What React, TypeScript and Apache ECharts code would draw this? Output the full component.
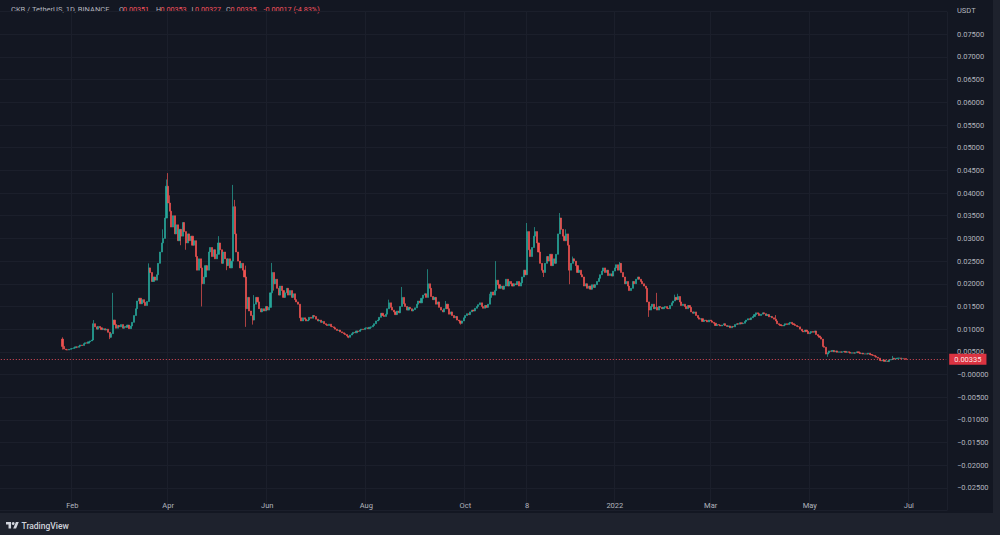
import React, { useEffect, useRef } from "react";
import * as echarts from "echarts";

const FONT = "Roboto, 'Noto Sans', sans-serif";
const UP = "#26a69a";
const DOWN = "#ef5350";

// Daily closes, in units of 0.00001 USDT (CKB/USDT, Binance, 1D)
const close2021Jan = [620, 560, 545, 540, 555, 570];
const close2021Feb = [575, 590, 610, 600, 625, 650, 640, 680, 700, 690, 720, 740, 760, 1120, 1050, 1000, 1060, 1030, 990, 1010, 980, 1000, 930, 820, 900, 1200, 1100, 1020];
const close2021Mar = [1080, 1050, 1100, 1020, 1060, 1040, 1090, 1010, 1070, 1150, 1300, 1450, 1620, 1680, 1560, 1650, 1590, 1520, 1610, 2350, 2250, 2050, 2150, 2080, 2200, 2450, 2700, 2900, 3000, 3450, 4150];
const close2021Apr = [3780, 3600, 3250, 3500, 3100, 3300, 2950, 3200, 3050, 3350, 3150, 2900, 3100, 2950, 3050, 2850, 2950, 2600, 2300, 2550, 2350, 2000, 2150, 2400, 2300, 2700, 2800, 2600, 2750, 2550];
const close2021May = [2650, 2900, 2750, 2450, 2700, 2550, 2400, 2550, 2350, 2500, 3700, 3100, 2700, 2500, 2350, 2450, 2300, 2150, 1450, 1700, 1400, 1300, 1200, 1550, 1700, 1600, 1450, 1380, 1450, 1400, 1500];
const close2021Jun = [1420, 1480, 1800, 2250, 2000, 2100, 1900, 1750, 1950, 1850, 1700, 1800, 1900, 1750, 1850, 1700, 1780, 1650, 1600, 1550, 1250, 1180, 1250, 1220, 1180, 1200, 1260, 1240, 1300, 1280];
const close2021Jul = [1220, 1180, 1200, 1150, 1170, 1120, 1100, 1080, 1110, 1060, 1050, 1030, 1000, 970, 980, 940, 920, 900, 880, 850, 820, 870, 900, 930, 920, 960, 950, 980, 1000, 990, 1020];
const close2021Aug = [1030, 1010, 1040, 1050, 1080, 1120, 1180, 1200, 1260, 1350, 1300, 1280, 1330, 1450, 1580, 1480, 1420, 1380, 1320, 1400, 1360, 1500, 1700, 1560, 1500, 1420, 1480, 1450, 1400, 1430, 1470];
const close2021Sep = [1550, 1620, 1580, 1680, 1750, 1780, 1700, 2000, 1900, 1720, 1650, 1700, 1550, 1600, 1480, 1420, 1380, 1450, 1550, 1450, 1330, 1380, 1300, 1250, 1280, 1200, 1180, 1130, 1180, 1250];
const close2021Oct = [1300, 1340, 1320, 1380, 1420, 1400, 1460, 1500, 1540, 1580, 1500, 1460, 1520, 1480, 1550, 1700, 1820, 1750, 1850, 2080, 1980, 1900, 1950, 1880, 1950, 2100, 1950, 2050, 2000, 1950, 2000];
const close2021Nov = [1980, 2050, 1950, 2020, 2150, 2300, 2200, 3150, 2750, 2600, 2800, 3050, 3150, 2900, 2700, 2450, 2300, 2250, 2450, 2600, 2500, 2650, 2400, 2550, 2450, 2650, 3100, 3450, 3200, 3050];
const close2021Dec = [2950, 3100, 2850, 2300, 2450, 2550, 2500, 2400, 2250, 2300, 2200, 2150, 1950, 2000, 1900, 1950, 1880, 1980, 1920, 1980, 2050, 2120, 2200, 2280, 2350, 2250, 2300, 2180, 2220, 2170, 2280];
const close2022Jan = [2350, 2420, 2300, 2450, 2250, 2150, 2000, 2050, 1950, 1850, 1900, 2050, 2000, 2100, 2150, 2100, 2050, 2000, 1950, 1900, 1600, 1420, 1500, 1550, 1450, 1480, 1420, 1500, 1480, 1450, 1480];
const close2022Feb = [1500, 1460, 1450, 1520, 1580, 1620, 1700, 1650, 1720, 1600, 1520, 1550, 1500, 1450, 1520, 1480, 1380, 1350, 1380, 1300, 1250, 1220, 1230, 1170, 1200, 1190, 1160, 1200];
const close2022Mar = [1180, 1150, 1130, 1080, 1100, 1090, 1070, 1090, 1120, 1080, 1060, 1070, 1030, 1060, 1050, 1100, 1120, 1110, 1140, 1120, 1130, 1170, 1200, 1230, 1210, 1250, 1280, 1320, 1360, 1340, 1300];
const close2022Apr = [1330, 1360, 1340, 1300, 1320, 1270, 1280, 1250, 1220, 1180, 1120, 1100, 1080, 1070, 1090, 1120, 1100, 1130, 1150, 1120, 1100, 1080, 1060, 1050, 1000, 960, 940, 980, 950, 900];
const close2022May = [920, 950, 930, 960, 880, 850, 820, 780, 620, 600, 450, 480, 520, 510, 530, 500, 520, 490, 500, 490, 500, 510, 490, 500, 490, 470, 480, 470, 480, 500, 480];
const close2022Jun = [460, 470, 450, 455, 450, 470, 440, 430, 420, 400, 380, 360, 310, 300, 320, 290, 300, 285, 320, 330, 360, 340, 355, 360, 365, 350, 355, 352, 335];

// [year, month, first day, closes]
const monthSeries: [number, number, number, number[]][] = [
  [2021, 1, 26, close2021Jan], [2021, 2, 1, close2021Feb], [2021, 3, 1, close2021Mar],
  [2021, 4, 1, close2021Apr], [2021, 5, 1, close2021May], [2021, 6, 1, close2021Jun],
  [2021, 7, 1, close2021Jul], [2021, 8, 1, close2021Aug], [2021, 9, 1, close2021Sep],
  [2021, 10, 1, close2021Oct], [2021, 11, 1, close2021Nov], [2021, 12, 1, close2021Dec],
  [2022, 1, 1, close2022Jan], [2022, 2, 1, close2022Feb], [2022, 3, 1, close2022Mar],
  [2022, 4, 1, close2022Apr], [2022, 5, 1, close2022May], [2022, 6, 1, close2022Jun],
];

const firstOpen = 780;
const openOverrides: [string, number][] = [["2022-06-29", 351]];
const wickHighs: [string, number][] = [
  ["2021-01-26", 820], ["2021-02-14", 1200], ["2021-02-26", 1800], ["2021-03-20", 2450],
  ["2021-03-29", 3200], ["2021-03-31", 4300], ["2021-04-01", 4440], ["2021-04-02", 3950],
  ["2021-04-05", 3450], ["2021-05-02", 3050], ["2021-05-11", 4180], ["2021-05-12", 3850],
  ["2021-05-19", 2400], ["2021-05-24", 1750], ["2021-06-04", 2460], ["2021-08-15", 1650],
  ["2021-08-23", 1930], ["2021-09-08", 2320], ["2021-09-19", 1620], ["2021-10-16", 1780],
  ["2021-10-20", 2500], ["2021-11-08", 3340], ["2021-11-09", 3050], ["2021-11-13", 3250],
  ["2021-11-28", 3560], ["2021-11-29", 3400], ["2021-12-02", 3200], ["2021-12-06", 2600],
  ["2022-01-04", 2480], ["2022-01-27", 1800], ["2022-02-07", 1760], ["2022-02-09", 1780],
  ["2022-04-10", 1310], ["2022-06-21", 410], ["2022-06-29", 353],
];
const wickLows: [string, number][] = [
  ["2021-01-26", 550], ["2021-02-24", 780], ["2021-04-09", 2850], ["2021-04-12", 2750],
  ["2021-04-22", 1500], ["2021-05-07", 2300], ["2021-05-19", 1050], ["2021-05-23", 1100],
  ["2021-06-05", 1850], ["2021-07-21", 800], ["2021-09-28", 1100], ["2021-11-18", 2150],
  ["2021-12-04", 1990], ["2022-01-22", 1270], ["2022-05-12", 390], ["2022-06-29", 327],
];

const xLabelDates: [string, string][] = [
  ["2021-02-01", "Feb"], ["2021-04-01", "Apr"], ["2021-06-01", "Jun"], ["2021-08-01", "Aug"],
  ["2021-10-01", "Oct"], ["2021-11-08", "8"], ["2022-01-01", "2022"], ["2022-03-01", "Mar"],
  ["2022-05-01", "May"], ["2022-07-01", "Jul"],
];
const axisStart = [2020, 12, 19];
const axisEnd = [2022, 7, 24];
const priceMin = -0.03;
const priceMax = 0.08;
const priceStep = 0.005;
const headerParts: [string, string][] = [["O", "0.00351"], ["H", "0.00353"], ["L", "0.00327"], ["C", "0.00335"]];
const headerChange = "-0.00017 (-4.83%)";

const pad = (n: number) => String(n).padStart(2, "0");
const key = (y: number, m: number, d: number) => `${y}-${pad(m)}-${pad(d)}`;

function buildCategories(): string[] {
  const out: string[] = [];
  let t = Date.UTC(axisStart[0], axisStart[1] - 1, axisStart[2]);
  const end = Date.UTC(axisEnd[0], axisEnd[1] - 1, axisEnd[2]);
  while (t <= end) {
    const d = new Date(t);
    out.push(key(d.getUTCFullYear(), d.getUTCMonth() + 1, d.getUTCDate()));
    t += 86400000;
  }
  return out;
}

function buildCandles() {
  const highs = new Map(wickHighs);
  const lows = new Map(wickLows);
  const opens = new Map(openOverrides);
  const map = new Map<string, number[]>();
  let prev = firstOpen;
  let lastClose = firstOpen;
  for (const [y, m, d0, arr] of monthSeries) {
    arr.forEach((c, i) => {
      const k = key(y, m, d0 + i);
      const o = opens.has(k) ? (opens.get(k) as number) : prev;
      let hi = Math.max(o, c);
      let lo = Math.min(o, c);
      if (highs.has(k)) hi = Math.max(hi, highs.get(k) as number);
      if (lows.has(k)) lo = Math.min(lo, lows.get(k) as number);
      map.set(k, [o / 1e5, c / 1e5, lo / 1e5, hi / 1e5]);
      prev = c;
      lastClose = c;
    });
  }
  return { map, lastClose: lastClose / 1e5 };
}

function fmtPrice(v: number): string {
  if (v > 0.0751 || v < -0.0251) return "";
  const r = Math.round(v * 1e5) / 1e5;
  if (Math.abs(r) < 1e-9) return "\u22120.00000";
  return (r < 0 ? "\u2212" : "") + Math.abs(r).toFixed(5);
}

// pixel geometry of the price pane: 0 at y=374.5, 4536 px per 1.0 USDT
const zeroY = 374.5;
const pxPerUnit = 4536;

export default function App() {
  const ref = useRef<HTMLDivElement>(null);
  useEffect(() => {
    if (!ref.current) return;
    try {
      echarts.graphic.registerShape(
        "tvlogo",
        echarts.graphic.extendPath("M14 22H7V11H0V4h14v18zM28 22h-8l7.5-18h8L28 22z", {}) as any
      );
    } catch (e) {}
    const chart = echarts.init(ref.current, null, { renderer: "svg", width: 1000, height: 535 });
    const cats = buildCategories();
    const { map, lastClose } = buildCandles();
    const data = cats.map((c) => (map.has(c) ? map.get(c) : "-"));
    const labels = new Map(xLabelDates);
    const isLabel = (_i: number, v: string) => labels.has(v);

    const grayText = "#b2b5be";
    const red = "#f7525f";

    const headerEls: any[] = [];
    const hx = [[119, 123], [156, 160.5], [191.5, 195], [226, 230.5]];
    headerParts.forEach(([k, v], i) => {
      headerEls.push({ type: "text", x: hx[i][0], y: 9.5, silent: true, style: { text: k, fill: grayText, fontSize: 7.2, fontFamily: FONT, verticalAlign: "middle", textVerticalAlign: "middle" } });
      headerEls.push({ type: "text", x: hx[i][1], y: 9.5, silent: true, style: { text: v, fill: red, fontSize: 7.2, fontFamily: FONT, verticalAlign: "middle", textVerticalAlign: "middle" } });
    });

    const gridTop = zeroY - priceMax * pxPerUnit;
    const gridHeight = (priceMax - priceMin) * pxPerUnit;

    chart.setOption({
      animation: false,
      backgroundColor: "transparent",
      grid: { left: 0, top: gridTop, width: 947, height: gridHeight, containLabel: false },
      xAxis: {
        type: "category",
        data: cats,
        boundaryGap: true,
        axisLine: { show: false },
        axisTick: { show: false },
        axisLabel: {
          interval: isLabel,
          formatter: (v: string) => labels.get(v) ?? "",
          color: grayText,
          fontSize: 7.5,
          fontFamily: FONT,
          margin: -9,
        },
        splitLine: { show: true, interval: isLabel, lineStyle: { color: "#1b1f2b", width: 1 } },
      },
      yAxis: {
        type: "value",
        position: "right",
        min: priceMin,
        max: priceMax,
        interval: priceStep,
        axisLine: { show: false },
        axisTick: { show: false },
        axisLabel: { margin: 10, color: grayText, fontSize: 7.5, fontFamily: FONT, formatter: fmtPrice },
        splitLine: { show: true, lineStyle: { color: "#1b1f2b", width: 1 } },
      },
      series: [
        {
          type: "candlestick",
          data,
          barWidth: 1.6,
          itemStyle: { color: UP, color0: DOWN, borderColor: UP, borderColor0: DOWN, borderWidth: 0.7 },
          markLine: {
            silent: true,
            symbol: ["none", "none"],
            data: [[
              { coord: [cats[0], lastClose] },
              { coord: [cats[cats.length - 1], lastClose] },
            ]],
            lineStyle: { color: red, type: [1, 2], width: 1, opacity: 0.9 },
            label: {
              show: true,
              position: "end",
              distance: 3,
              formatter: () => lastClose.toFixed(5),
              backgroundColor: "#f23645",
              color: "#ffffff",
              fontSize: 7.5,
              fontFamily: FONT,
              padding: [2, 5, 1, 5],
            },
          },
        },
      ],
      graphic: [
        { type: "rect", silent: true, z: -10, shape: { x: 0, y: 0, width: 993, height: 513 }, style: { fill: "#131722" } },
        { type: "text", x: 11, y: 9.5, silent: true, style: { text: "CKB / TetherUS, 1D, BINANCE", fill: grayText, fontSize: 7.5, fontFamily: FONT, verticalAlign: "middle", textVerticalAlign: "middle" } },
        ...headerEls,
        { type: "text", x: 263.5, y: 9.5, silent: true, style: { text: headerChange, fill: red, fontSize: 7.2, fontFamily: FONT, verticalAlign: "middle", textVerticalAlign: "middle" } },
        { type: "text", x: 957, y: 10, silent: true, style: { text: "USDT", fill: grayText, fontSize: 7.5, fontFamily: FONT, verticalAlign: "middle", textVerticalAlign: "middle" } },
        { type: "tvlogo", x: 6, y: 520.6, scaleX: 0.36, scaleY: 0.36, silent: true, style: { fill: "#d1d4dc" } },
        { type: "circle", silent: true, shape: { cx: 6 + 20 * 0.36, cy: 520.6 + 8 * 0.36, r: 4 * 0.36 }, style: { fill: "#d1d4dc" } },
        { type: "text", x: 21.5, y: 525.5, silent: true, style: { text: "TradingView", fill: "#d1d4dc", fontSize: 8.5, fontFamily: FONT, fontWeight: 500, verticalAlign: "middle", textVerticalAlign: "middle" } },
      ],
    });
    return () => chart.dispose();
  }, []);
  return (
    <div style={{ position: "fixed", left: 0, top: 0, width: 1000, height: 535, background: "#1e222d", overflow: "hidden" }}>
      <div ref={ref} style={{ width: 1000, height: 535 }} />
    </div>
  );
}
